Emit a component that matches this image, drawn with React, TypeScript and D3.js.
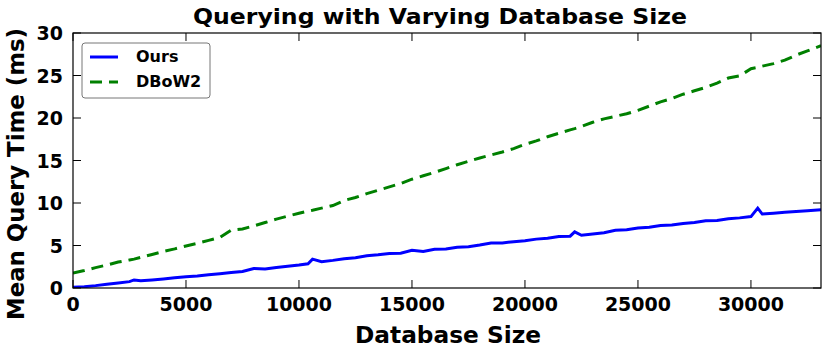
import React from "react";
import * as d3 from "d3";

// database sizes (shared x values for both series)
const sizes = [
  0, 500, 1000, 1500, 2000, 2500, 2700, 3000, 3500, 4000,
  4500, 5000, 5500, 6000, 6500, 7000, 7500, 8000, 8500, 9000,
  9500, 10000, 10400, 10600, 11000, 11500, 12000, 12500, 13000, 13500,
  14000, 14500, 15000, 15500, 16000, 16500, 17000, 17500, 18000, 18500,
  19000, 19500, 20000, 20500, 21000, 21500, 22000, 22200, 22500, 23000,
  23500, 24000, 24500, 25000, 25500, 26000, 26500, 27000, 27500, 28000,
  28500, 29000, 29500, 30000, 30300, 30500, 31000, 31500, 32000, 32500,
  33100,
];

// mean query time (ms)
const ours = [
  0.1, 0.15, 0.28, 0.45, 0.6, 0.75, 0.95, 0.85, 0.95, 1.07,
  1.2, 1.33, 1.42, 1.55, 1.68, 1.82, 1.95, 2.3, 2.25, 2.4,
  2.55, 2.7, 2.85, 3.4, 3.1, 3.25, 3.45, 3.55, 3.8, 3.9,
  4.05, 4.1, 4.45, 4.3, 4.55, 4.6, 4.8, 4.85, 5.05, 5.3,
  5.3, 5.45, 5.55, 5.75, 5.85, 6.05, 6.1, 6.6, 6.2, 6.35,
  6.5, 6.8, 6.85, 7.05, 7.15, 7.35, 7.4, 7.6, 7.7, 7.9,
  7.95, 8.15, 8.25, 8.4, 9.4, 8.7, 8.8, 8.9, 9.0, 9.1,
  9.2,
];

const dbow2 = [
  1.75, 2.05, 2.4, 2.7, 3.05, 3.3, 3.4, 3.6, 3.95, 4.3,
  4.6, 4.95, 5.25, 5.6, 5.95, 6.8, 6.95, 7.3, 7.7, 8.1,
  8.45, 8.8, 9.05, 9.15, 9.4, 9.7, 10.3, 10.65, 11.1, 11.5,
  11.9, 12.3, 12.8, 13.2, 13.6, 14.05, 14.5, 14.9, 15.3, 15.65,
  16.0, 16.4, 16.9, 17.3, 17.8, 18.2, 18.6, 18.75, 19.0, 19.5,
  19.9, 20.2, 20.5, 20.9, 21.4, 21.9, 22.3, 22.8, 23.2, 23.6,
  24.1, 24.7, 24.95, 25.8, 25.95, 26.1, 26.4, 26.8, 27.4, 27.9,
  28.5,
];

const xTicks = [0, 5000, 10000, 15000, 20000, 25000, 30000];
const yTicks = [0, 5, 10, 15, 20, 25, 30];

const font = "'DejaVu Sans', sans-serif";

export default function App() {
  const width = 830, height = 348;
  const left = 73, right = 821, top = 33, bottom = 288;

  const x = d3.scaleLinear().domain([0, 33100]).range([left, right]);
  const y = d3.scaleLinear().domain([0, 30]).range([bottom, top]);

  const line = d3.line<number>()
    .x((d, i) => x(sizes[i]))
    .y(d => y(d));

  const tickLen = 8;

  return (
    <svg width={width} height={height} style={{ position: "absolute", left: 0, top: 0, background: "#fff" }}
      fontFamily={font} fontWeight="bold">
      <defs>
        <clipPath id="plot">
          <rect x={left} y={top} width={right - left} height={bottom - top} />
        </clipPath>
      </defs>

      <text x={440} y={23.5} textAnchor="middle" fontSize={21.5} textLength={494} lengthAdjust="spacingAndGlyphs">
        Querying with Varying Database Size
      </text>

      <g clipPath="url(#plot)">
        <path d={line(dbow2) || ""} fill="none" stroke="#008000" strokeWidth={3} strokeDasharray="12,7" />
        <path d={line(ours) || ""} fill="none" stroke="#0000ff" strokeWidth={3} />
      </g>

      {/* ticks on all four sides, pointing inward */}
      {xTicks.map(t => (
        <g key={"x" + t}>
          <line x1={x(t)} x2={x(t)} y1={bottom} y2={bottom - tickLen} stroke="#000" />
          <line x1={x(t)} x2={x(t)} y1={top} y2={top + tickLen} stroke="#000" />
          <text x={x(t)} y={311} textAnchor="middle" fontSize={19}>{t}</text>
        </g>
      ))}
      {yTicks.map(t => (
        <g key={"y" + t}>
          <line x1={left} x2={left + tickLen} y1={y(t)} y2={y(t)} stroke="#000" />
          <line x1={right} x2={right - tickLen} y1={y(t)} y2={y(t)} stroke="#000" />
          <text x={63} y={y(t) + 7} textAnchor="end" fontSize={19}>{t}</text>
        </g>
      ))}

      <rect x={left} y={top} width={right - left} height={bottom - top} fill="none" stroke="#000" strokeWidth={1.2} />

      <text x={448} y={343} textAnchor="middle" fontSize={22.5} textLength={186} lengthAdjust="spacingAndGlyphs">
        Database Size
      </text>
      <text transform={`translate(24,174) rotate(-90)`} textAnchor="middle" fontSize={22.5}
        textLength={292} lengthAdjust="spacingAndGlyphs">
        Mean Query Time (ms)
      </text>

      {/* legend */}
      <g>
        <rect x={82} y={43} width={128} height={55} rx={3} fill="#fff" stroke="#777" strokeWidth={1} />
        <line x1={90} x2={118} y1={57} y2={57} stroke="#0000ff" strokeWidth={3} />
        <text x={136} y={62} fontSize={16}>Ours</text>
        <line x1={90} x2={118} y1={82} y2={82} stroke="#008000" strokeWidth={3} strokeDasharray="12,7" />
        <text x={136} y={87} fontSize={16}>DBoW2</text>
      </g>
    </svg>
  );
}
